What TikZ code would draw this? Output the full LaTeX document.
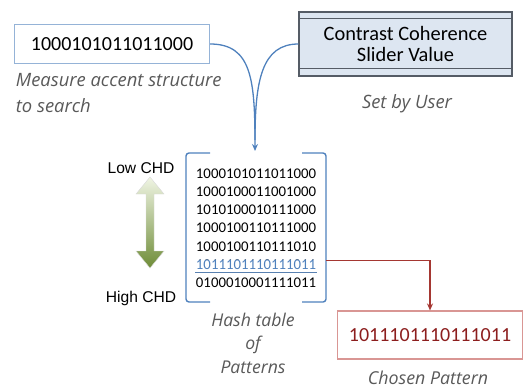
\documentclass[tikz,border=0pt]{standalone}
\usepackage{fontspec}
\setmainfont{Carlito}
\newfontfamily\notefont{Open Sans}
\newfontfamily\chdfont{Liberation Sans}
\usetikzlibrary{arrows.meta}

\definecolor{lineblue}{RGB}{79,129,189}
\definecolor{boxblue}{RGB}{149,179,215}
\definecolor{sliderfill}{RGB}{221,230,241}
\definecolor{sliderline}{RGB}{85,92,102}
\definecolor{notegray}{RGB}{89,89,89}
\definecolor{linered}{RGB}{165,55,50}
\definecolor{boxred}{RGB}{217,150,148}
\definecolor{textred}{RGB}{140,30,30}
\definecolor{chdtop}{RGB}{240,245,228}
\definecolor{chdbottom}{RGB}{110,140,55}

\tikzset{every path/.style={line width=1.1pt}}

\begin{document}
\begin{tikzpicture}[x=1pt,y=-1pt,
    bitbox/.style={draw,rectangle,inner sep=0pt,font=\fontsize{20}{22}\selectfont},
    note/.style={text=notegray,font=\notefont\itshape\fontsize{18.4}{26}\selectfont},
    rowtext/.style={inner sep=0pt,font=\fontsize{14.8}{17}\selectfont},
    chdtext/.style={font=\chdfont\fontsize{15.6}{18}\selectfont}]
    \useasboundingbox (0,0) rectangle (526,391);
    % search query
    \node[bitbox,draw=boxblue,minimum width=195,minimum height=39] (query) at (112,44) {1000101011011000};
    \node[note,anchor=west,align=left] (querynote) at (12,93) {Measure accent structure\\to search};
    % slider
    \node[bitbox,draw=sliderline,fill=sliderfill,minimum width=213,minimum height=64,align=center,
      font=\fontsize{20.4}{21.5}\selectfont] (slider) at (405.5,44) {Contrast Coherence\\Slider Value};
    \draw[sliderline,line width=0.8pt] ([yshift=-7]slider.north west) -- ([yshift=-7]slider.north east);
    \draw[sliderline,line width=0.8pt] ([yshift=8]slider.south west) -- ([yshift=8]slider.south east);
    \node[note] (usernote) at (407,104) {Set by User};
    % hash table
    \coordinate (merge) at (255,151);
    \draw[lineblue,line width=1.3pt,-{Stealth[length=7pt,width=6pt]}] (query.east) .. controls (252,44) and (255,80) .. (merge);
    \draw[lineblue,line width=1.3pt] (slider.west) .. controls (262,44) and (255,80) .. (255,140);
    \draw[lineblue,line width=1.4pt,rounded corners=3pt] (210,153) -- (186,153) -- (186,302) -- (210,302);
    \draw[lineblue,line width=1.4pt,rounded corners=3pt] (302,153) -- (326,153) -- (326,302) -- (302,302);
    \foreach \bits [count=\i] in {1000101011011000,1000100011001000,1010100010111000,1000100110111000,1000100110111010,1011101110111011,0100010001111011}
      \node[rowtext] (r\i) at (256,155+18.3*\i) {\bits};
    \node[rowtext,text=lineblue,fill=white] at (r6) {1011101110111011};
    \draw[lineblue!80!gray,line width=1.2pt] ([yshift=-2.5]r6.south west) -- ([yshift=-2.5]r6.south east);
    \node[note,align=center,font=\notefont\itshape\fontsize{17.6}{23.5}\selectfont] (tablenote) at (253,343) {Hash table\\of\\Patterns};
    % CHD scale
    \node[chdtext] (low) at (141,168) {Low CHD};
    \node[chdtext] (high) at (141,298) {High CHD};
    \shade[top color=chdtop,bottom color=chdbottom,draw=gray!30,line width=0.4pt]
      (150,177) -- (164,194) -- (154,194) -- (154,251) -- (164,251) -- (150,268)
      -- (136,251) -- (146,251) -- (146,194) -- (136,194) -- cycle;
    % chosen pattern
    \node[bitbox,draw=boxred,text=textred,minimum width=185,minimum height=48] (chosen) at (430,335) {1011101110111011};
    \node[note,font=\notefont\itshape\fontsize{17.8}{20}\selectfont] (chosennote) at (428,378) {Chosen Pattern};
    \coordinate (hit) at (326,260.5);
    \draw[linered,line width=1.2pt,-{Stealth[length=7pt,width=6pt]}] (hit) -| (chosen.north);
\end{tikzpicture}
\end{document}
